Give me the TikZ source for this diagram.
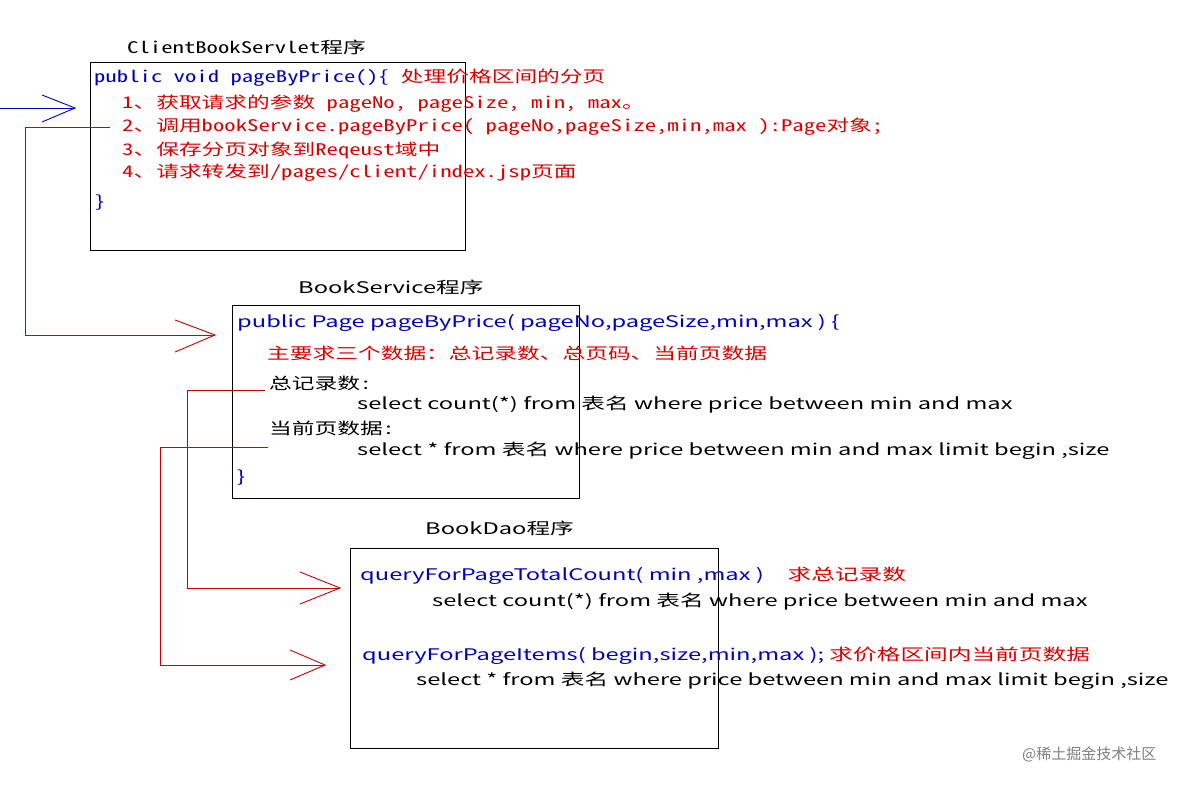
\documentclass[tikz,border=0pt]{standalone}
\usepackage{fontspec}
\setmainfont{Noto Sans CJK SC}
\newfontfamily\monozh{Noto Sans Mono CJK SC}
\newcommand{\sw}[1]{\scalebox{1.48}[1]{#1}}
\newcommand{\mw}[1]{\scalebox{1.42}[1]{#1}}
\begin{document}
\begin{tikzpicture}[x=1pt,y=-1pt,
  box/.style={draw=black,line width=1pt},
  t/.style={anchor=west,inner sep=0pt,font=\fontsize{16}{18}\selectfont},
  tm/.style={t,font=\monozh\fontsize{16}{18}\selectfont},
  red/.style={text=red!85!black},
  blue/.style={text=blue!75!black},
  ra/.style={draw=red!80!black,line width=0.9pt},
  ba/.style={draw=blue!80!black,line width=0.9pt}]
\useasboundingbox[fill=white] (0,0) rectangle (1204,787);
\draw[box] (90,62) rectangle (465,250);
\draw[box] (232,305) rectangle (579,498);
\draw[box] (350,548) rectangle (718,748);
\node[tm] (t1) at (127,47) {\mw{ClientBookServlet程序}};
\node[t] (t2) at (298,287) {\sw{BookService程序}};
\node[t] (t3) at (425,528) {\sw{BookDao程序}};
% box1
\node[tm,blue] (a0) at (94,78) {\mw{public void pageByPrice()\{ \textcolor{red!85!black}{ 处理价格区间的分页}}};
\node[tm,red] (a1) at (122,104) {\mw{1、获取请求的参数 pageNo, pageSize, min, max。}};
\node[tm,red] (a2) at (122,127) {\mw{2、调用bookService.pageByPrice( pageNo,pageSize,min,max ):Page对象;}};
\node[tm,red] (a3) at (122,150) {\mw{3、保存分页对象到Reqeust域中}};
\node[tm,red] (a4) at (122,173) {\mw{4、请求转发到/pages/client/index.jsp页面}};
\node[tm,blue] (a5) at (94,203) {\mw{\}}};
% box2
\node[t,blue] (b0) at (237,323) {\sw{public Page pageByPrice( pageNo,pageSize,min,max ) \{}};
\node[tm,red] (b1) at (267,353) {\mw{主要求三个数据：总记录数、总页码、当前页数据}};
\node[tm] (b2) at (269,383) {\mw{总记录数:}};
\node[t] (b3) at (357,405) {\sw{select count(*) from 表名 where price between min and max}};
\node[tm] (b4) at (269,428) {\mw{当前页数据:}};
\node[t] (b5) at (357,451) {\sw{select * from 表名 where price between min and max limit begin ,size}};
\node[t,blue] (b6) at (237,478) {\sw{\}}};
% box3
\node[t,blue] (c0) at (360,576) {\sw{queryForPageTotalCount( min ,max )\quad\textcolor{red!85!black}{\monozh 求总记录数}}};
\node[t] (c1) at (432,602) {\sw{select count(*) from 表名 where price between min and max}};
\node[t,blue] (c2) at (362,656) {\sw{queryForPageItems( begin,size,min,max );\ \textcolor{red!85!black}{\monozh 求价格区间内当前页数据}}};
\node[t] (c3) at (416,681) {\sw{select * from 表名 where price between min and max limit begin ,size}};
\node[anchor=west,inner sep=0pt,text=gray,font=\fontsize{15}{17}\selectfont] (wm) at (1022,754) {@稀土掘金技术社区};
% arrows
\coordinate (p0) at (0,108); \coordinate (p1) at (75,108);
\draw[ba] (p0) -- (p1); \draw[ba] (42,95) -- (p1) -- (42,122);
\coordinate (q0) at (110,127); \coordinate (q1) at (215,335);
\draw[ra] (q0) -- (25,127) |- (q1); \draw[ra] (175,320) -- (q1) -- (175,352);
\coordinate (r0) at (265,390); \coordinate (r1) at (340,588);
\draw[ra] (r0) -- (187,390) |- (r1); \draw[ra] (300,572) -- (r1) -- (300,604);
\coordinate (s0) at (268,447); \coordinate (s1) at (325,665);
\draw[ra] (s0) -- (160,447) |- (s1); \draw[ra] (290,650) -- (s1) -- (290,680);
\end{tikzpicture}
\end{document}
